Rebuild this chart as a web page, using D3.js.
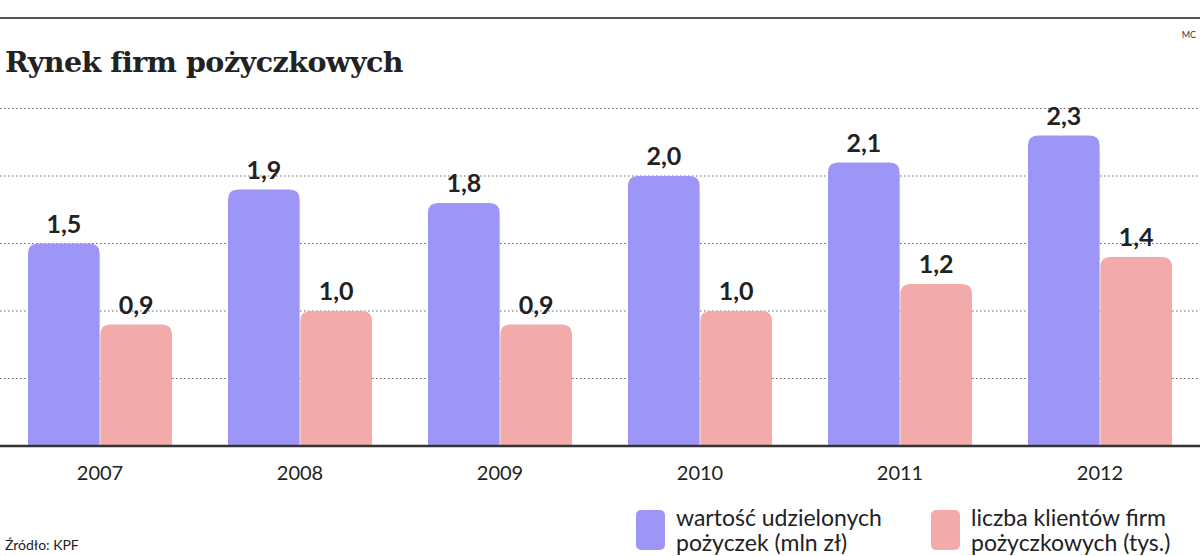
<!DOCTYPE html>
<html><head><meta charset="utf-8">
<script src="https://cdnjs.cloudflare.com/ajax/libs/d3/7.8.5/d3.min.js"></script>
<style>body{margin:0;background:#fff}</style>
</head><body><div id="chart"></div>
<script>
const years = ['2007', '2008', '2009', '2010', '2011', '2012'];
const loanValue = [1.5, 1.9, 1.8, 2.0, 2.1, 2.3];
const clients = [0.9, 1.0, 0.9, 1.0, 1.2, 1.4];
const gridTicks = [0.5, 1.0, 1.5, 2.0, 2.5];
const seriesNames = ['wartość udzielonych|pożyczek (mln zł)', 'liczba klientów firm|pożyczkowych (tys.)'];
const colors = ['#9d96f6', '#f2aaaa'];

const W = 1200, H = 556;
const svg = d3.select('#chart').append('svg').attr('width', W).attr('height', H)
  .style('font-family', 'Lato, "Open Sans", sans-serif');

const x = d3.scaleBand().domain(years).range([0, 1200]).paddingInner(0.28).paddingOuter(0.14);
const inner = d3.scaleBand().domain([0, 1]).range([0, x.bandwidth()]).paddingInner(0.01);
const y = d3.scaleLinear().domain([0, 2.5]).range([446, 108.5]);

// top rule
svg.append('line').attr('x1', 0).attr('x2', W).attr('y1', 18).attr('y2', 18)
  .attr('stroke', '#555').attr('stroke-width', 2);
svg.append('text').attr('x', 5).attr('y', 72).text('Rynek firm pożyczkowych')
  .style('font-family', '"DejaVu Serif", serif').style('font-weight', 'bold')
  .style('font-size', '28.5px').attr('fill', '#222').attr('letter-spacing', -0.5);
svg.append('text').attr('x', 1196).attr('y', 38).attr('text-anchor', 'end').text('MC')
  .style('font-size', '9px').attr('fill', '#333');

// grid
svg.selectAll('.grid').data(gridTicks).join('line')
  .attr('x1', 0).attr('x2', W).attr('y1', d => y(d)).attr('y2', d => y(d))
  .attr('stroke', '#666').attr('stroke-width', 1.2).attr('stroke-dasharray', '1.5,2.5');

const rows = years.map((yr, i) => ({ yr, vals: [loanValue[i], clients[i]] }));
const g = svg.selectAll('.grp').data(rows).join('g')
  .attr('transform', d => `translate(${x(d.yr)},0)`);

const r = 10;
const barPath = (x0, w, top, bot) =>
  `M${x0},${bot}V${top + r}Q${x0},${top} ${x0 + r},${top}H${x0 + w - r}Q${x0 + w},${top} ${x0 + w},${top + r}V${bot}Z`;

g.selectAll('path').data(d => d.vals.map((v, k) => ({ v, k }))).join('path')
  .attr('d', d => barPath(inner(d.k), inner.bandwidth(), y(d.v), y(0)))
  .attr('fill', d => colors[d.k]);

g.selectAll('.lbl').data(d => d.vals.map((v, k) => ({ v, k }))).join('text')
  .attr('x', d => inner(d.k) + inner.bandwidth() / 2).attr('y', d => y(d.v) - 11)
  .attr('text-anchor', 'middle').style('font-size', '25px').style('font-weight', 'bold')
  .attr('fill', '#222').text(d => d3.format('.1f')(d.v).replace('.', ','));

// baseline
svg.append('line').attr('x1', 0).attr('x2', W).attr('y1', y(0)).attr('y2', y(0))
  .attr('stroke', '#333').attr('stroke-width', 2.5);

svg.selectAll('.yr').data(years).join('text')
  .attr('x', d => x(d) + x.bandwidth() / 2).attr('y', 480).attr('text-anchor', 'middle')
  .style('font-size', '20px').attr('fill', '#222').text(d => d);

svg.append('text').attr('x', 5).attr('y', 550).text('Źródło: KPF')
  .style('font-size', '14px').attr('fill', '#222');

// legend
const legX = [636, 931];
seriesNames.forEach((n, k) => {
  svg.append('rect').attr('x', legX[k]).attr('y', 510).attr('width', 29).attr('height', 40)
    .attr('rx', 5).attr('fill', colors[k]);
  const t = svg.append('text').attr('x', legX[k] + 40).attr('y', 526)
    .style('font-size', '23px').attr('fill', '#222');
  n.split('|').forEach((line, j) => t.append('tspan').attr('x', legX[k] + 40).attr('dy', j ? 25 : 0).text(line));
});
</script></body></html>
